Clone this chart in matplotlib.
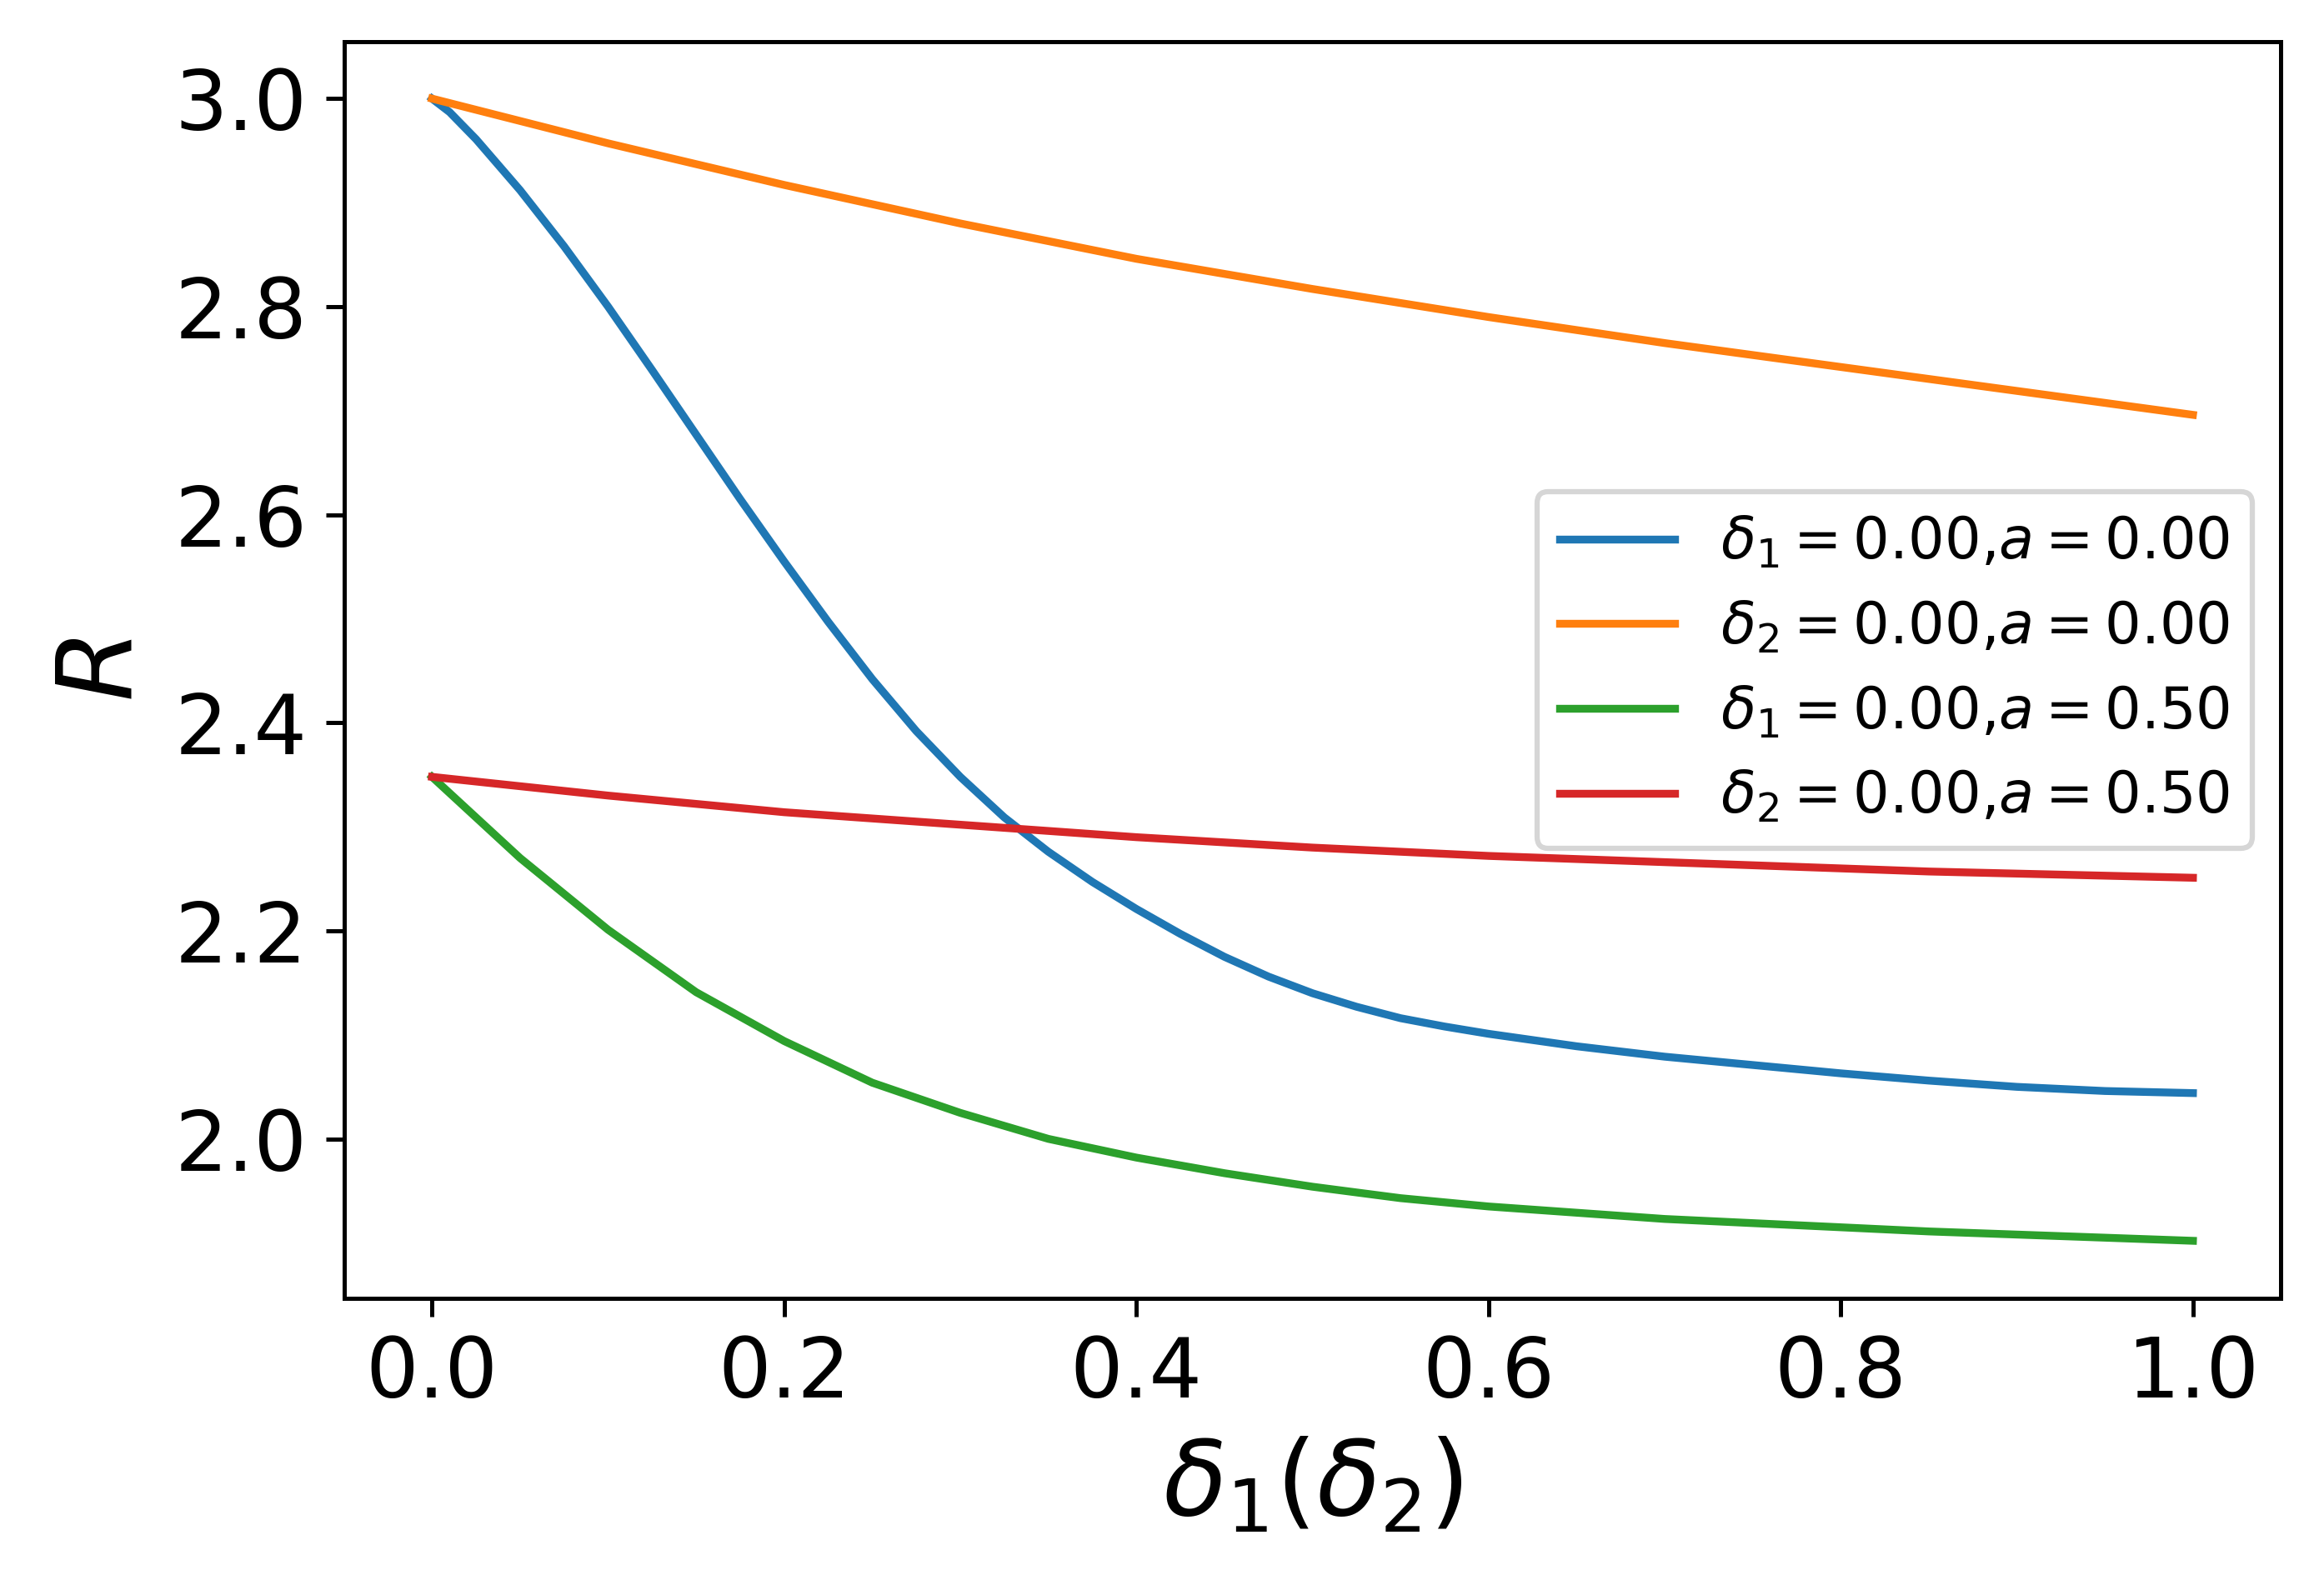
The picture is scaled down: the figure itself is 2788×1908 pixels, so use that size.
import matplotlib
matplotlib.use('Agg')
import matplotlib.pyplot as plt

# Values
x_blue = [0, 0.01, 0.025, 0.05, 0.075, 0.1, 0.125, 0.15, 0.175, 0.2, 0.225, 0.25, 0.275, 0.3,
          0.325, 0.35, 0.375, 0.4, 0.425, 0.45, 0.475, 0.5, 0.525, 0.55, 0.575, 0.6, 0.65, 0.7,
          0.75, 0.8, 0.85, 0.9, 0.95, 1.0]
r_blue = [3.000, 2.987, 2.961, 2.912, 2.858, 2.800, 2.739, 2.677, 2.615, 2.555, 2.497, 2.442,
          2.392, 2.348, 2.309, 2.276, 2.247, 2.221, 2.197, 2.175, 2.156, 2.140, 2.127, 2.116,
          2.108, 2.101, 2.089, 2.079, 2.071, 2.063, 2.056, 2.050, 2.046, 2.044]

x_orange = [0, 0.1, 0.2, 0.3, 0.4, 0.5, 0.6, 0.7, 0.8, 0.9, 1.0]
r_orange = [3.000, 2.957, 2.917, 2.880, 2.846, 2.817, 2.790, 2.765, 2.742, 2.719, 2.696]

x_step = [0, 0.05, 0.1, 0.15, 0.2, 0.25, 0.3, 0.35, 0.4, 0.45, 0.5, 0.55, 0.6, 0.65, 0.7,
          0.75, 0.8, 0.85, 0.9, 0.95, 1.0]
r_green = [2.348, 2.270, 2.201, 2.141, 2.094, 2.054, 2.025, 2.000, 1.982, 1.967, 1.954, 1.943,
           1.935, 1.929, 1.923, 1.919, 1.915, 1.911, 1.908, 1.905, 1.902]
r_red = [2.348, 2.339, 2.330, 2.322, 2.314, 2.308, 2.302, 2.296, 2.290, 2.285, 2.280, 2.276,
         2.272, 2.269, 2.266, 2.263, 2.260, 2.257, 2.255, 2.253, 2.251]

labels = [r'$\delta_1=0.00$,$a=0.00$', r'$\delta_2=0.00$,$a=0.00$',
          r'$\delta_1=0.00$,$a=0.50$', r'$\delta_2=0.00$,$a=0.50$']

fig = plt.figure(figsize=(2788 / 450, 1908 / 450), dpi=450)
ax = fig.add_axes([0.148, 0.1837, 0.8335, 0.7902])

ax.plot(x_blue, r_blue, label=labels[0])
ax.plot(x_orange, r_orange, label=labels[1])
ax.plot(x_step, r_green, label=labels[2])
ax.plot(x_step, r_red, label=labels[3])

ax.set_xticks([0.0, 0.2, 0.4, 0.6, 0.8, 1.0])
ax.set_yticks([2.0, 2.2, 2.4, 2.6, 2.8, 3.0])
ax.tick_params(labelsize=16)
ax.set_xlabel(r'$\delta_1(\delta_2)$', fontsize=20)
ax.set_ylabel(r'$R$', fontsize=20)

ax.legend(loc='center right', fontsize=11)

fig.savefig('out.png', dpi=450)
